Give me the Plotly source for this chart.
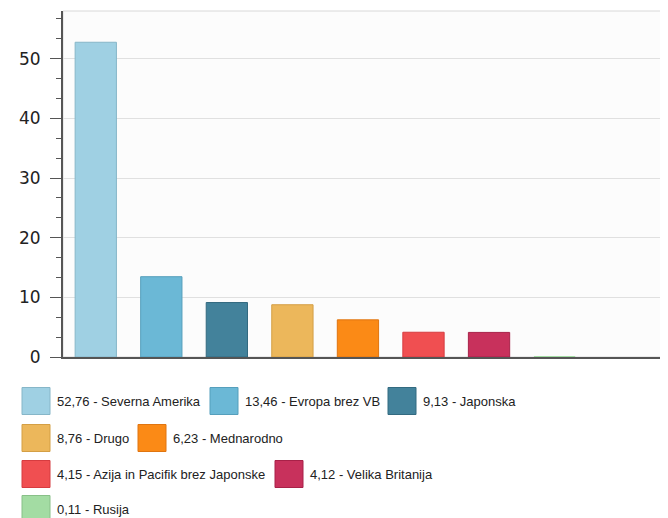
import plotly.graph_objects as go

categories = ["Severna Amerika", "Evropa brez VB", "Japonska", "Drugo", "Mednarodno",
              "Azija in Pacifik brez Japonske", "Velika Britanija", "Rusija"]
values = [52.76, 13.46, 9.13, 8.76, 6.23, 4.15, 4.12, 0.11]
value_labels = ["52,76", "13,46", "9,13", "8,76", "6,23", "4,15", "4,12", "0,11"]
colors = ["#9fd0e3", "#6bb8d6", "#43829b", "#ecb75b", "#fb8a16", "#f04f51", "#c8315c", "#a3dca3"]
outline = ["#86b6c8", "#559fbc", "#336a80", "#d49f45", "#e07510", "#d63c40", "#a82148", "#88c088"]
y_ticks = [0, 10, 20, 30, 40, 50]

OFF = 8  # page body margin
W, H = 668 - OFF, 518 - OFF
# plot area in page pixels: left 63, right 666, top 11, bottom 357
L, T = 63 - OFF, 11 - OFF
R = W - (666 - OFF)
B = H - (357 - OFF)
pw, ph = W - L - R, H - T - B


def px_to_paper_x(xp):
    return (xp - OFF - L) / pw


def px_to_paper_y(yp):
    return (H - B - (yp - OFF)) / ph


fig = go.Figure()
fig.add_trace(go.Bar(
    x=list(range(len(categories))), y=values,
    marker=dict(color=colors, line=dict(color=outline, width=[1] * 7 + [0])),
    width=0.63, showlegend=False, hoverinfo="skip",
))

shapes = [dict(type="rect", xref="paper", yref="paper", x0=0, x1=1, y0=0, y1=1,
               line=dict(color="#d8d8d8", width=1), layer="below")]
annotations = []

# custom legend (reference page pixel layout converted to paper coords)
legend_rows = [[0, 1, 2], [3, 4], [5, 6], [7]]
row_y = [401, 438, 474, 509]
row_x = {0: [22, 210, 388], 1: [22, 138], 2: [22, 275], 3: [22]}
for r, items in enumerate(legend_rows):
    yc = row_y[r]
    for k, idx in enumerate(items):
        xs = row_x[r][k]
        shapes.append(dict(type="rect", xref="paper", yref="paper",
                           x0=px_to_paper_x(xs), x1=px_to_paper_x(xs + 28),
                           y0=px_to_paper_y(yc + 13.5), y1=px_to_paper_y(yc - 13.5),
                           fillcolor=colors[idx], line=dict(color=outline[idx], width=1)))
        annotations.append(dict(xref="paper", yref="paper", x=px_to_paper_x(xs + 33),
                                y=px_to_paper_y(yc), xanchor="left", yanchor="middle",
                                text=f"{value_labels[idx]} - {categories[idx]}",
                                showarrow=False,
                                font=dict(family="Liberation Sans", size=13, color="#222")))

fig.update_layout(
    width=W, height=H,
    margin=dict(l=L, r=R, t=T, b=B, pad=0),
    paper_bgcolor="white", plot_bgcolor="#fcfcfc",
    shapes=shapes, annotations=annotations,
    xaxis=dict(range=[-0.5, 8.7], showticklabels=False, ticks="", showgrid=False,
               zeroline=False, showline=True, linecolor="#555", linewidth=2),
    yaxis=dict(range=[0, 58], tickvals=y_ticks, ticks="outside", ticklen=11, tickwidth=1,
               tickcolor="#555", showline=True, linecolor="#555", linewidth=2,
               showgrid=True, gridcolor="#e0e0e0", gridwidth=1, zeroline=False,
               tickfont=dict(family="DejaVu Sans", size=17, color="#222"),
               ticklabelstandoff=6,
               minor=dict(dtick=10/3, tick0=0, ticks="outside", ticklen=5, tickcolor="#555",
                          showgrid=False)),
    font=dict(family="Liberation Sans"),
)

fig.write_html("out.html")
